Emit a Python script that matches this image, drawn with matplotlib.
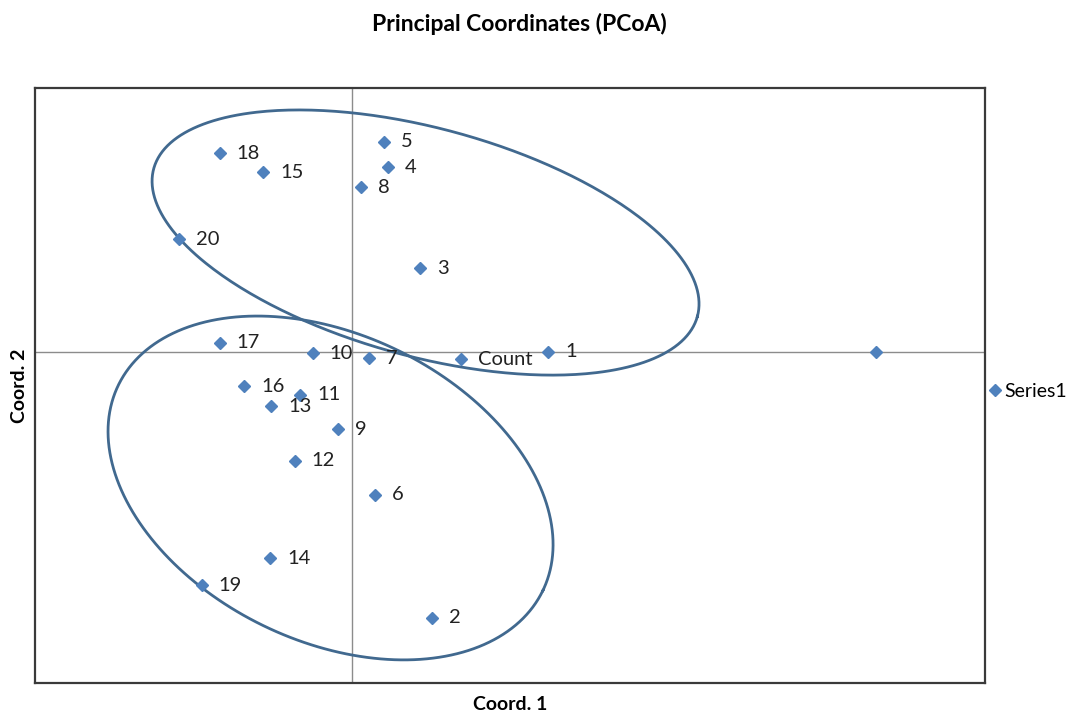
import numpy as np
import matplotlib
matplotlib.use("Agg")
import matplotlib.pyplot as plt

# ---- data ----
labels = ["1", "2", "3", "4", "5", "6", "7", "8", "9", "10",
          "11", "12", "13", "14", "15", "16", "17", "18", "19", "20",
          "Count", ""]
coord1 = [0.186, 0.076, 0.065, 0.034, 0.031, 0.022, 0.016, 0.009, -0.013, -0.037,
          -0.049, -0.054, -0.076, -0.077, -0.084, -0.102, -0.125, -0.125, -0.142, -0.164,
          0.104, 0.497]
coord2 = [0.001, -0.321, 0.102, 0.224, 0.255, -0.172, -0.007, 0.200, -0.093, -0.001,
          -0.051, -0.131, -0.065, -0.249, 0.218, -0.041, 0.012, 0.241, -0.282, 0.137,
          -0.008, 0.000]

plt.rcParams["font.family"] = ["Lato", "DejaVu Sans"]

fig = plt.figure(figsize=(10.7, 7.21), dpi=100)
ax = fig.add_axes([35/1070, 38/721, 950/1070, 595/721])
ax.set_xlim(-0.3, 0.6)
ax.set_ylim(-0.4, 0.32)

ax.axhline(0, color="#8c8c8c", lw=1.0, zorder=1)
ax.axvline(0, color="#8c8c8c", lw=1.0, zorder=1)

ax.plot(coord1, coord2, linestyle="none", marker="D", markersize=6.5,
        color="#4F81BD", label="Series1", zorder=3)

for x, y, t in zip(coord1, coord2, labels):
    if t:
        ax.annotate(t, (x, y), xytext=(17, 0), textcoords="offset pixels",
                    ha="left", va="center", fontsize=14.5, color="#222222")

# ellipses (parametric curves, screen-like units converted to data)
px_x = 950 / 0.9
px_y = 595 / 0.72
ell_params = [
    # center x, center y, semi-major, semi-minor (pixels), angle (deg, downward)
    (0.070, 0.133, 281.7, 114.1, 15.2),
    (-0.020, -0.164, 235.8, 153.2, 25.8),
]
t = np.linspace(0, 2*np.pi, 400)
for cx, cy, a, b, ang in ell_params:
    th = np.deg2rad(ang)
    dx = a*np.cos(t)*np.cos(th) - b*np.sin(t)*np.sin(th)
    dy = a*np.cos(t)*np.sin(th) + b*np.sin(t)*np.cos(th)
    ax.plot(cx + dx/px_x, cy - dy/px_y, color="#41698F", lw=2.0, zorder=2)

ax.set_xticks([])
ax.set_yticks([])
for s in ax.spines.values():
    s.set_color("#3a3a3a")
    s.set_linewidth(1.6)

ax.set_xlabel("Coord. 1", fontsize=14, fontweight="bold", labelpad=9)
ax.set_ylabel("Coord. 2", fontsize=14, fontweight="bold", labelpad=5)
fig.suptitle("Principal Coordinates (PCoA)", fontsize=16.5, fontweight="bold",
             x=0.485, y=0.982)

ax.legend(loc="center left", bbox_to_anchor=(1.0, 0.49), frameon=False,
          fontsize=14, handlelength=0.6, handletextpad=0.2, borderaxespad=0,
          borderpad=0.2)

fig.savefig("out.png", dpi=100)
